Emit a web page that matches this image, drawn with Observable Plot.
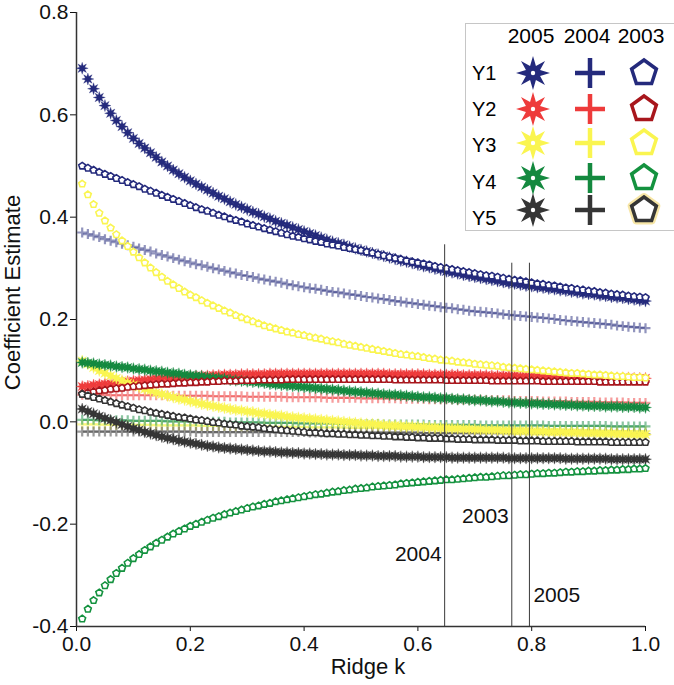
<!DOCTYPE html>
<html>
<head>
<meta charset="utf-8">
<script src="https://cdn.jsdelivr.net/npm/d3@7"></script>
<script src="https://cdn.jsdelivr.net/npm/@observablehq/plot@0.6"></script>
<style>
  body { margin: 0; background: white; }
  #chart { position: relative; width: 674px; height: 685px; font-family: "Liberation Sans", Arial, sans-serif; }
</style>
</head>
<body>
<div id="chart"></div>
<script>
// ridge parameter k
const ridgeK = [
  0.01,0.02,0.03,0.04,0.05,0.06,0.07,0.08,0.09,0.10,
  0.11,0.12,0.13,0.14,0.15,0.16,0.17,0.18,0.19,0.20,
  0.21,0.22,0.23,0.24,0.25,0.26,0.27,0.28,0.29,0.30,
  0.31,0.32,0.33,0.34,0.35,0.36,0.37,0.38,0.39,0.40,
  0.41,0.42,0.43,0.44,0.45,0.46,0.47,0.48,0.49,0.50,
  0.51,0.52,0.53,0.54,0.55,0.56,0.57,0.58,0.59,0.60,
  0.61,0.62,0.63,0.64,0.65,0.66,0.67,0.68,0.69,0.70,
  0.71,0.72,0.73,0.74,0.75,0.76,0.77,0.78,0.79,0.80,
  0.81,0.82,0.83,0.84,0.85,0.86,0.87,0.88,0.89,0.90,
  0.91,0.92,0.93,0.94,0.95,0.96,0.97,0.98,0.99,1.00
]

// 2005 (stars)
const y1_2005 = [
  0.691,0.670,0.651,0.634,0.618,0.603,0.589,0.577,0.565,0.554,
  0.544,0.535,0.526,0.517,0.508,0.500,0.492,0.485,0.478,0.471,
  0.465,0.459,0.453,0.447,0.441,0.436,0.430,0.425,0.420,0.415,
  0.410,0.406,0.401,0.397,0.392,0.388,0.384,0.380,0.376,0.372,
  0.368,0.364,0.360,0.356,0.352,0.349,0.346,0.342,0.339,0.336,
  0.333,0.330,0.327,0.324,0.321,0.318,0.315,0.313,0.310,0.307,
  0.304,0.302,0.299,0.297,0.294,0.292,0.290,0.287,0.285,0.283,
  0.281,0.279,0.277,0.275,0.273,0.271,0.270,0.268,0.266,0.265,
  0.263,0.262,0.260,0.259,0.257,0.256,0.254,0.253,0.251,0.250,
  0.249,0.247,0.246,0.244,0.243,0.242,0.240,0.239,0.237,0.236
]
const y2_2005 = [
  0.069,0.070,0.072,0.073,0.074,0.075,0.077,0.078,0.079,0.080,
  0.081,0.082,0.083,0.084,0.085,0.086,0.087,0.087,0.088,0.089,
  0.089,0.090,0.090,0.091,0.091,0.092,0.092,0.092,0.093,0.093,
  0.093,0.093,0.093,0.094,0.094,0.094,0.094,0.094,0.094,0.094,
  0.094,0.094,0.094,0.094,0.094,0.094,0.094,0.094,0.094,0.094,
  0.094,0.094,0.094,0.094,0.093,0.093,0.093,0.093,0.093,0.093,
  0.093,0.092,0.092,0.092,0.092,0.092,0.092,0.091,0.091,0.091,
  0.091,0.091,0.090,0.090,0.090,0.090,0.090,0.089,0.089,0.089,
  0.089,0.089,0.088,0.088,0.088,0.088,0.088,0.087,0.087,0.087,
  0.087,0.087,0.086,0.086,0.086,0.086,0.086,0.085,0.085,0.085
]
const y3_2005 = [
  0.119,0.113,0.106,0.100,0.095,0.090,0.085,0.081,0.076,0.072,
  0.068,0.064,0.061,0.057,0.054,0.051,0.048,0.045,0.043,0.040,
  0.038,0.035,0.033,0.031,0.029,0.027,0.025,0.023,0.022,0.020,
  0.019,0.017,0.016,0.014,0.013,0.012,0.010,0.009,0.008,0.007,
  0.006,0.005,0.004,0.003,0.002,0.001,0.000,-0.001,-0.002,-0.003,
  -0.004,-0.004,-0.005,-0.006,-0.007,-0.007,-0.008,-0.009,-0.009,-0.010,
  -0.010,-0.011,-0.011,-0.012,-0.012,-0.013,-0.013,-0.014,-0.014,-0.015,
  -0.015,-0.016,-0.016,-0.016,-0.017,-0.017,-0.018,-0.018,-0.018,-0.019,
  -0.019,-0.019,-0.020,-0.020,-0.020,-0.021,-0.021,-0.021,-0.022,-0.022,
  -0.022,-0.023,-0.023,-0.023,-0.024,-0.024,-0.024,-0.025,-0.025,-0.025
]
const y4_2005 = [
  0.116,0.115,0.114,0.112,0.111,0.110,0.108,0.107,0.106,0.104,
  0.103,0.102,0.100,0.099,0.098,0.096,0.095,0.094,0.092,0.091,
  0.090,0.089,0.087,0.086,0.085,0.084,0.082,0.081,0.080,0.079,
  0.078,0.077,0.076,0.074,0.073,0.072,0.071,0.070,0.069,0.068,
  0.067,0.066,0.065,0.064,0.063,0.062,0.061,0.060,0.059,0.058,
  0.057,0.056,0.055,0.054,0.053,0.053,0.052,0.051,0.050,0.049,
  0.048,0.048,0.047,0.046,0.046,0.045,0.044,0.044,0.043,0.042,
  0.042,0.041,0.040,0.040,0.039,0.038,0.038,0.037,0.037,0.036,
  0.036,0.035,0.035,0.034,0.034,0.033,0.033,0.032,0.032,0.031,
  0.031,0.031,0.030,0.030,0.030,0.029,0.029,0.029,0.028,0.028
]
const y5_2005 = [
  0.025,0.020,0.016,0.011,0.007,0.003,-0.001,-0.005,-0.009,-0.013,
  -0.016,-0.020,-0.023,-0.026,-0.029,-0.032,-0.034,-0.037,-0.039,-0.041,
  -0.043,-0.045,-0.047,-0.048,-0.050,-0.051,-0.052,-0.053,-0.054,-0.055,
  -0.056,-0.057,-0.058,-0.058,-0.059,-0.060,-0.060,-0.061,-0.061,-0.062,
  -0.062,-0.063,-0.063,-0.064,-0.064,-0.064,-0.065,-0.065,-0.065,-0.066,
  -0.066,-0.066,-0.067,-0.067,-0.067,-0.067,-0.068,-0.068,-0.068,-0.068,
  -0.069,-0.069,-0.069,-0.069,-0.069,-0.070,-0.070,-0.070,-0.070,-0.070,
  -0.070,-0.070,-0.070,-0.070,-0.070,-0.071,-0.071,-0.071,-0.071,-0.071,
  -0.071,-0.071,-0.071,-0.071,-0.071,-0.072,-0.072,-0.072,-0.072,-0.072,
  -0.072,-0.072,-0.072,-0.073,-0.073,-0.073,-0.073,-0.073,-0.073,-0.073
]

// 2004 (plus)
const y1_2004 = [
  0.370,0.367,0.364,0.361,0.357,0.354,0.351,0.348,0.345,0.342,
  0.339,0.336,0.333,0.329,0.326,0.323,0.320,0.317,0.314,0.311,
  0.308,0.306,0.303,0.300,0.298,0.295,0.292,0.290,0.287,0.285,
  0.283,0.280,0.278,0.276,0.274,0.272,0.269,0.267,0.265,0.263,
  0.261,0.260,0.258,0.256,0.254,0.253,0.251,0.249,0.248,0.246,
  0.244,0.243,0.241,0.240,0.238,0.236,0.235,0.233,0.232,0.230,
  0.229,0.227,0.226,0.224,0.223,0.222,0.220,0.219,0.217,0.216,
  0.215,0.214,0.213,0.212,0.210,0.209,0.208,0.207,0.206,0.205,
  0.204,0.203,0.202,0.201,0.199,0.198,0.197,0.196,0.195,0.194,
  0.193,0.192,0.191,0.190,0.188,0.187,0.186,0.185,0.184,0.183
]
const y2_2004 = [
  0.053,0.053,0.053,0.053,0.053,0.052,0.052,0.052,0.052,0.052,
  0.052,0.052,0.052,0.052,0.052,0.051,0.051,0.051,0.051,0.051,
  0.051,0.051,0.051,0.050,0.050,0.050,0.050,0.050,0.050,0.049,
  0.049,0.049,0.049,0.049,0.049,0.049,0.048,0.048,0.048,0.048,
  0.048,0.048,0.048,0.047,0.047,0.047,0.047,0.047,0.047,0.046,
  0.046,0.046,0.046,0.046,0.046,0.046,0.045,0.045,0.045,0.045,
  0.045,0.044,0.044,0.044,0.044,0.044,0.043,0.043,0.043,0.043,
  0.043,0.042,0.042,0.042,0.042,0.042,0.041,0.041,0.041,0.041,
  0.041,0.040,0.040,0.040,0.040,0.040,0.039,0.039,0.039,0.039,
  0.039,0.038,0.038,0.038,0.038,0.038,0.037,0.037,0.037,0.037
]
const y3_2004 = [
  -0.005,-0.005,-0.005,-0.005,-0.006,-0.006,-0.006,-0.006,-0.006,-0.006,
  -0.006,-0.006,-0.006,-0.007,-0.007,-0.007,-0.007,-0.007,-0.007,-0.007,
  -0.007,-0.008,-0.008,-0.008,-0.008,-0.008,-0.008,-0.009,-0.009,-0.009,
  -0.009,-0.009,-0.009,-0.010,-0.010,-0.010,-0.010,-0.010,-0.010,-0.010,
  -0.011,-0.011,-0.011,-0.011,-0.011,-0.011,-0.011,-0.012,-0.012,-0.012,
  -0.012,-0.012,-0.012,-0.012,-0.013,-0.013,-0.013,-0.013,-0.013,-0.013,
  -0.013,-0.014,-0.014,-0.014,-0.014,-0.014,-0.014,-0.014,-0.015,-0.015,
  -0.015,-0.015,-0.015,-0.015,-0.015,-0.016,-0.016,-0.016,-0.016,-0.016,
  -0.016,-0.016,-0.017,-0.017,-0.017,-0.017,-0.017,-0.017,-0.017,-0.017,
  -0.018,-0.018,-0.018,-0.018,-0.018,-0.018,-0.018,-0.018,-0.018,-0.018
]
const y4_2004 = [
  0.004,0.004,0.004,0.003,0.003,0.003,0.003,0.003,0.003,0.002,
  0.002,0.002,0.002,0.002,0.002,0.001,0.001,0.001,0.001,0.001,
  0.001,0.000,0.000,0.000,0.000,0.000,-0.001,-0.001,-0.001,-0.001,
  -0.001,-0.001,-0.002,-0.002,-0.002,-0.002,-0.002,-0.002,-0.003,-0.003,
  -0.003,-0.003,-0.003,-0.003,-0.003,-0.004,-0.004,-0.004,-0.004,-0.004,
  -0.004,-0.004,-0.004,-0.005,-0.005,-0.005,-0.005,-0.005,-0.005,-0.005,
  -0.005,-0.006,-0.006,-0.006,-0.006,-0.006,-0.006,-0.006,-0.006,-0.006,
  -0.007,-0.007,-0.007,-0.007,-0.007,-0.007,-0.007,-0.007,-0.007,-0.007,
  -0.007,-0.007,-0.008,-0.008,-0.008,-0.008,-0.008,-0.008,-0.008,-0.008,
  -0.008,-0.008,-0.008,-0.009,-0.009,-0.009,-0.009,-0.009,-0.009,-0.009
]
const y5_2004 = [
  -0.019,-0.019,-0.019,-0.019,-0.019,-0.019,-0.019,-0.019,-0.019,-0.019,
  -0.019,-0.019,-0.019,-0.019,-0.019,-0.019,-0.019,-0.019,-0.019,-0.019,
  -0.020,-0.020,-0.020,-0.020,-0.020,-0.020,-0.020,-0.020,-0.020,-0.020,
  -0.020,-0.020,-0.020,-0.020,-0.020,-0.020,-0.020,-0.020,-0.020,-0.020,
  -0.021,-0.021,-0.021,-0.021,-0.021,-0.021,-0.021,-0.021,-0.021,-0.021,
  -0.021,-0.021,-0.021,-0.021,-0.021,-0.021,-0.021,-0.021,-0.021,-0.021,
  -0.022,-0.022,-0.022,-0.022,-0.022,-0.022,-0.022,-0.022,-0.022,-0.022,
  -0.022,-0.022,-0.022,-0.022,-0.022,-0.022,-0.022,-0.022,-0.022,-0.022,
  -0.023,-0.023,-0.023,-0.023,-0.023,-0.023,-0.023,-0.023,-0.023,-0.023,
  -0.023,-0.023,-0.023,-0.023,-0.023,-0.024,-0.024,-0.024,-0.024,-0.024
]

// 2003 (pentagons)
const y1_2003 = [
  0.500,0.496,0.492,0.488,0.484,0.480,0.476,0.472,0.468,0.464,
  0.460,0.455,0.451,0.447,0.443,0.439,0.435,0.431,0.427,0.423,
  0.419,0.415,0.412,0.408,0.404,0.401,0.397,0.394,0.391,0.387,
  0.384,0.381,0.378,0.375,0.372,0.369,0.366,0.363,0.361,0.358,
  0.356,0.353,0.351,0.348,0.346,0.344,0.341,0.339,0.337,0.335,
  0.332,0.330,0.327,0.325,0.322,0.320,0.318,0.315,0.313,0.311,
  0.309,0.307,0.304,0.302,0.300,0.298,0.296,0.294,0.292,0.290,
  0.288,0.286,0.285,0.283,0.281,0.279,0.277,0.276,0.274,0.272,
  0.270,0.269,0.267,0.266,0.264,0.262,0.261,0.259,0.258,0.256,
  0.255,0.253,0.252,0.250,0.249,0.248,0.246,0.245,0.244,0.243
]
const y2_2003 = [
  0.055,0.057,0.059,0.061,0.062,0.064,0.065,0.066,0.068,0.069,
  0.070,0.071,0.072,0.073,0.074,0.074,0.075,0.076,0.076,0.077,
  0.077,0.078,0.078,0.079,0.079,0.080,0.080,0.080,0.081,0.081,
  0.081,0.082,0.082,0.082,0.082,0.082,0.083,0.083,0.083,0.083,
  0.083,0.083,0.083,0.083,0.083,0.083,0.083,0.083,0.083,0.083,
  0.083,0.083,0.083,0.083,0.083,0.082,0.082,0.082,0.082,0.082,
  0.082,0.082,0.082,0.082,0.081,0.081,0.081,0.081,0.081,0.081,
  0.081,0.081,0.080,0.080,0.080,0.080,0.080,0.080,0.080,0.080,
  0.080,0.079,0.079,0.079,0.079,0.079,0.079,0.079,0.079,0.079,
  0.079,0.078,0.078,0.078,0.078,0.078,0.078,0.078,0.078,0.078
]
const y3_2003 = [
  0.465,0.444,0.425,0.408,0.393,0.379,0.366,0.354,0.343,0.332,
  0.321,0.311,0.301,0.292,0.283,0.275,0.268,0.261,0.254,0.248,
  0.243,0.237,0.232,0.227,0.222,0.217,0.213,0.208,0.204,0.200,
  0.196,0.192,0.188,0.185,0.182,0.179,0.176,0.174,0.171,0.169,
  0.166,0.164,0.162,0.159,0.157,0.155,0.152,0.150,0.148,0.146,
  0.144,0.142,0.140,0.138,0.136,0.134,0.132,0.131,0.129,0.128,
  0.126,0.124,0.123,0.121,0.120,0.119,0.117,0.116,0.115,0.113,
  0.112,0.111,0.110,0.109,0.107,0.106,0.105,0.104,0.103,0.102,
  0.101,0.100,0.099,0.098,0.097,0.096,0.095,0.095,0.094,0.093,
  0.092,0.092,0.091,0.090,0.089,0.089,0.088,0.087,0.087,0.086
]
const y4_2003 = [
  -0.385,-0.366,-0.349,-0.334,-0.320,-0.308,-0.296,-0.286,-0.276,-0.267,
  -0.259,-0.251,-0.244,-0.237,-0.231,-0.225,-0.219,-0.214,-0.209,-0.204,
  -0.200,-0.196,-0.192,-0.188,-0.185,-0.181,-0.178,-0.175,-0.172,-0.169,
  -0.166,-0.164,-0.161,-0.159,-0.156,-0.154,-0.152,-0.150,-0.148,-0.146,
  -0.144,-0.142,-0.141,-0.139,-0.137,-0.136,-0.134,-0.133,-0.131,-0.130,
  -0.129,-0.127,-0.126,-0.125,-0.124,-0.123,-0.121,-0.120,-0.119,-0.118,
  -0.117,-0.116,-0.115,-0.114,-0.113,-0.113,-0.112,-0.111,-0.110,-0.109,
  -0.108,-0.108,-0.107,-0.106,-0.105,-0.105,-0.104,-0.103,-0.103,-0.102,
  -0.101,-0.101,-0.100,-0.100,-0.099,-0.098,-0.098,-0.097,-0.097,-0.096,
  -0.096,-0.095,-0.095,-0.094,-0.094,-0.093,-0.093,-0.092,-0.092,-0.091
]
const y5_2003 = [
  0.054,0.051,0.048,0.045,0.042,0.039,0.036,0.033,0.030,0.027,
  0.024,0.022,0.019,0.017,0.015,0.013,0.011,0.009,0.008,0.006,
  0.004,0.003,0.001,-0.001,-0.002,-0.004,-0.005,-0.006,-0.008,-0.009,
  -0.010,-0.011,-0.013,-0.014,-0.015,-0.016,-0.017,-0.018,-0.019,-0.020,
  -0.021,-0.021,-0.022,-0.023,-0.023,-0.024,-0.024,-0.025,-0.025,-0.026,
  -0.026,-0.027,-0.027,-0.028,-0.028,-0.029,-0.029,-0.030,-0.030,-0.031,
  -0.031,-0.032,-0.032,-0.032,-0.033,-0.033,-0.034,-0.034,-0.034,-0.035,
  -0.035,-0.035,-0.035,-0.036,-0.036,-0.036,-0.036,-0.037,-0.037,-0.037,
  -0.037,-0.038,-0.038,-0.038,-0.038,-0.038,-0.038,-0.039,-0.039,-0.039,
  -0.039,-0.039,-0.039,-0.040,-0.040,-0.040,-0.040,-0.040,-0.040,-0.040
]

// chosen k per year (vertical lines)
const choiceYears = ["2004", "2003", "2005"]
const choiceK = [0.647, 0.765, 0.796]
const choiceTop = [0.346, 0.310, 0.310]

const xTicks = [0, 0.2, 0.4, 0.6, 0.8, 1.0]
const yTicks = [-0.4, -0.2, 0, 0.2, 0.4, 0.6, 0.8]
const varNames = ["Y1", "Y2", "Y3", "Y4", "Y5"]
const years = ["2005", "2004", "2003"]

const series = [
  {name: "Y1", year: "2005", values: y1_2005}, {name: "Y2", year: "2005", values: y2_2005},
  {name: "Y3", year: "2005", values: y3_2005}, {name: "Y4", year: "2005", values: y4_2005},
  {name: "Y5", year: "2005", values: y5_2005},
  {name: "Y1", year: "2004", values: y1_2004}, {name: "Y2", year: "2004", values: y2_2004},
  {name: "Y3", year: "2004", values: y3_2004}, {name: "Y4", year: "2004", values: y4_2004},
  {name: "Y5", year: "2004", values: y5_2004},
  {name: "Y1", year: "2003", values: y1_2003}, {name: "Y2", year: "2003", values: y2_2003},
  {name: "Y3", year: "2003", values: y3_2003}, {name: "Y4", year: "2003", values: y4_2003},
  {name: "Y5", year: "2003", values: y5_2003}
]
const rows = series.flatMap(s => s.values.map((v, i) => ({k: ridgeK[i], v, name: s.name, year: s.year})))
const choices = choiceYears.map((year, i) => ({year, k: choiceK[i], top: choiceTop[i]}))

const colors = {Y1: "#242a7c", Y2: "#ee3b3b", Y3: "#faf550", Y4: "#14893f", Y5: "#353535"}
const pentColors = {Y1: "#242a7c", Y2: "#a8161c", Y3: "#faf550", Y4: "#14923f", Y5: "#353535"}

// 8 pointed star and pentagon as d3-style symbols
const star8 = {
  draw(ctx, size) {
    const R = Math.sqrt(size / Math.PI), r = R * 0.45
    for (let i = 0; i < 16; i++) {
      const a = i * Math.PI / 8 - Math.PI / 2, rr = i % 2 ? r : R
      if (i == 0) ctx.moveTo(rr * Math.cos(a), rr * Math.sin(a))
      else ctx.lineTo(rr * Math.cos(a), rr * Math.sin(a))
    }
    ctx.closePath()
  }
}
const pentagon = {
  draw(ctx, size) {
    const R = Math.sqrt(size / Math.PI)
    for (let i = 0; i < 5; i++) {
      const a = i * 2 * Math.PI / 5 - Math.PI / 2
      if (i == 0) ctx.moveTo(R * Math.cos(a), R * Math.sin(a))
      else ctx.lineTo(R * Math.cos(a), R * Math.sin(a))
    }
    ctx.closePath()
  }
}

const labelAt = {"2004": -0.259, "2003": -0.185, "2005": -0.339}

let chart = Plot.plot({
  width: 674,
  height: 685,
  marginLeft: 76,
  marginRight: 29,
  marginTop: 12,
  marginBottom: 59,
  style: {background: "white", color: "#111", fontFamily: "Liberation Sans, Arial, sans-serif", fontSize: "21px"},
  x: {domain: [0, 1]},
  y: {domain: [-0.4, 0.8]},
  marks: [
    Plot.axisX({ticks: xTicks, tickFormat: d => d.toFixed(1), tickSize: 5, tickPadding: 5, label: null, fontSize: 21}),
    Plot.axisY({ticks: yTicks, tickFormat: d => d.toFixed(1), tickSize: 6, tickPadding: 2, label: null, fontSize: 21}),
    Plot.ruleX([0], {stroke: "#333", strokeWidth: 1.5}),
    Plot.ruleY([-0.4], {stroke: "#333", strokeWidth: 1.5}),

    Plot.dot(rows.filter(d => d.year == "2004"), {
      x: "k", y: "v", symbol: "plus", r: 3.3, stroke: d => colors[d.name], strokeOpacity: 0.5, strokeWidth: 2.2
    }),
    Plot.dot(rows.filter(d => d.year == "2005"), {
      x: "k", y: "v", symbol: star8, r: 6, fill: d => colors[d.name], stroke: d => colors[d.name], strokeOpacity: 0.3, strokeWidth: 1
    }),
    Plot.dot(rows.filter(d => d.year == "2003"), {
      x: "k", y: "v", symbol: pentagon, r: 3.6, fill: "white", stroke: d => pentColors[d.name], strokeWidth: 1.6
    }),

    Plot.ruleX(choices, {x: "k", y1: -0.4, y2: "top", stroke: "#3a3a3a", strokeWidth: 1}),
    Plot.text(choices.filter(d => d.year != "2005"), {x: "k", y: d => labelAt[d.year], text: "year", textAnchor: "end", dx: -3, fontSize: 21}),
    Plot.text(choices.filter(d => d.year == "2005"), {x: "k", y: d => labelAt[d.year], text: "year", textAnchor: "start", dx: 4, fontSize: 21}),

    Plot.text(["Coefficient Estimate"], {frameAnchor: "left", textAnchor: "middle", lineAnchor: "middle", rotate: -90, dx: -64, dy: -27, fontSize: 22}),
    Plot.text(["Ridge k"], {frameAnchor: "bottom", textAnchor: "middle", lineAnchor: "middle", dx: 7, dy: 40, fontSize: 22})
  ],
  color: {type: "identity"}
})

d3.select('#chart').append(() => chart)

// legend box, top right
const legend = d3.select('#chart').append('svg')
  .attr('width', 212).attr('height', 210)
  .style('position', 'absolute').style('left', '465px').style('top', '23px')
  .style('font-family', 'Liberation Sans, Arial, sans-serif')

legend.append('rect').attr('x', 0.5).attr('y', 0.5).attr('width', 230).attr('height', 207)
  .attr('fill', 'white').attr('stroke', '#c6c6c6')

const colX = [68, 125, 179]
const headX = [66, 122, 176]
years.forEach((yr, j) => {
  legend.append('text').attr('x', headX[j]).attr('y', 13).attr('dy', '0.35em')
    .attr('text-anchor', 'middle').attr('font-size', 21).text(yr)
})

const labelRow = [50, 86, 122, 159, 195]
const symRow = [50, 86, 120, 155, 187]
const symPath = (sym, R) => { const p = d3.path(); sym.draw(p, Math.PI * R * R); return p.toString() }

varNames.forEach((nm, i) => {
  legend.append('text').attr('x', 7).attr('y', labelRow[i]).attr('dy', '0.35em')
    .attr('font-size', 20).text(nm)
  const g = legend.append('g')
  // 2005 star
  g.append('path').attr('transform', `translate(${colX[0]},${symRow[i]})`)
    .attr('d', symPath(star8, 17)).attr('fill', colors[nm])
  g.append('circle').attr('cx', colX[0]).attr('cy', symRow[i]).attr('r', 2.2).attr('fill', 'white')
  // 2004 plus
  g.append('path').attr('d', `M${colX[1] - 15},${symRow[i]}H${colX[1] + 15}M${colX[1]},${symRow[i] - 15}V${symRow[i] + 15}`)
    .attr('stroke', colors[nm]).attr('stroke-width', 4.5).attr('fill', 'none')
  // 2003 pentagon
  if (nm == "Y5") {
    g.append('path').attr('transform', `translate(${colX[2]},${symRow[i]})`)
      .attr('d', symPath(pentagon, 13)).attr('fill', 'none').attr('stroke', '#f7e6a6').attr('stroke-width', 8).attr('stroke-linejoin', 'round')
  }
  g.append('path').attr('transform', `translate(${colX[2]},${symRow[i]})`)
    .attr('d', symPath(pentagon, 13)).attr('fill', 'white').attr('stroke', pentColors[nm]).attr('stroke-width', 3.5)
})
</script>
</body>
</html>
